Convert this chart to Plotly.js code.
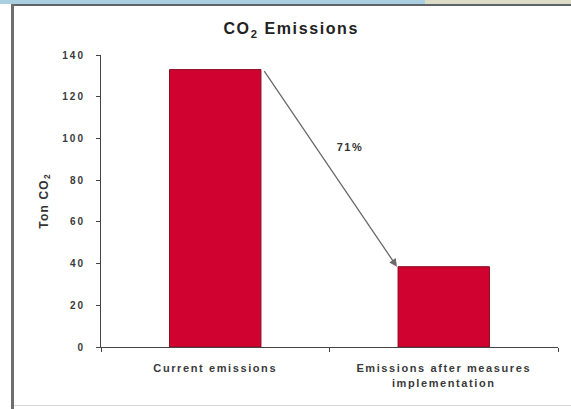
<!DOCTYPE html>
<html>
<head>
<meta charset="utf-8">
<script src="https://cdn.plot.ly/plotly-3.0.1.min.js"></script>
<style>
  html, body { margin: 0; padding: 0; width: 571px; height: 409px; overflow: hidden; background: #ffffff; }
  #chart { position: absolute; left: 0; top: 0; width: 571px; height: 409px; }
  #chart .xtick text { letter-spacing: 1.6px; }
  #chart .ytick text { letter-spacing: 2px; }
  #chart .gtitle { letter-spacing: 1.6px; }
  #chart .ytitle { letter-spacing: 1.2px; }
  #chart .annotation-text { letter-spacing: 1.5px; }
  .strip1 { position: absolute; left: 0; top: 0; width: 425px; height: 4px; background: #a9cfe0; }
  .strip2 { position: absolute; left: 425px; top: 0; width: 146px; height: 4px; background: #dcdcc8; }
  .topline { position: absolute; left: 11px; top: 4px; width: 560px; height: 2px; background: #5f6468; }
  .leftline { position: absolute; left: 11px; top: 4px; width: 3px; height: 405px; background: #6e6e6e; }
  .bottomline { position: absolute; left: 14px; top: 405px; width: 557px; height: 1px; background: #d8d8d8; }
</style>
</head>
<body>
<div id="chart"></div>
<div class="strip1"></div>
<div class="strip2"></div>
<div class="topline"></div>
<div class="leftline"></div>
<div class="bottomline"></div>
<script>
const categories = ["Current emissions", "Emissions after measures<br>implementation"];
const values = [133, 38.5];
const reductionLabel = "71%";
const yTicks = [0, 20, 40, 60, 80, 100, 120, 140];

const barWidth = 0.4;
const fontFam = "'Liberation Sans', Arial, sans-serif";

const data = [{
  type: "bar",
  x: categories,
  y: values,
  width: barWidth,
  marker: { color: "#d0022f", line: { color: "#8a0a22", width: 1 } },
  hoverinfo: "none"
}];

const layout = {
  width: 571,
  height: 409,
  margin: { l: 101, r: 13, t: 55, b: 62 },
  paper_bgcolor: "#ffffff",
  plot_bgcolor: "#ffffff",
  showlegend: false,
  title: {
    text: "<b>CO<sub>2</sub> Emissions</b>",
    font: { family: fontFam, size: 16, color: "#222" },
    x: 0.51, xref: "container", xanchor: "center",
    y: 0.93, yref: "container", yanchor: "middle"
  },
  xaxis: {
    type: "category",
    tickson: "boundaries",
    ticks: "outside",
    ticklen: 4,
    tickcolor: "#444",
    showline: true,
    linecolor: "#444",
    linewidth: 1,
    showgrid: false,
    zeroline: false,
    ticklabelstandoff: 11,
    tickfont: { family: fontFam, size: 11, color: "#3a3a3a", weight: "bold" },
    automargin: false
  },
  yaxis: {
    range: [0, 140],
    tickvals: yTicks,
    ticks: "outside",
    ticklen: 4,
    tickcolor: "#444",
    showline: true,
    linecolor: "#444",
    linewidth: 1,
    showgrid: false,
    zeroline: false,
    ticklabelstandoff: 9,
    tickfont: { family: fontFam, size: 10, color: "#3a3a3a", weight: "bold" },
    title: { text: "<b>Ton CO<sub>2</sub></b>", font: { family: fontFam, size: 12, color: "#333" }, standoff: 17 },
    automargin: false
  },
  annotations: [
    {
      x: 1 - barWidth / 2 - 0.005, y: values[1],
      ax: barWidth / 2 + 0.01, ay: values[0],
      xref: "x", yref: "y", axref: "x", ayref: "y",
      showarrow: true, arrowhead: 2, arrowsize: 1.2, arrowwidth: 1.3,
      arrowcolor: "#6a6a6a", standoff: 0, startstandoff: 0, text: ""
    },
    {
      x: 0.59, y: 96, xref: "x", yref: "y",
      text: "<b>" + reductionLabel + "</b>",
      showarrow: false,
      font: { family: fontFam, size: 11, color: "#333" }
    }
  ]
};

Plotly.newPlot("chart", data, layout, { staticPlot: true, displayModeBar: false });
</script>
</body>
</html>
